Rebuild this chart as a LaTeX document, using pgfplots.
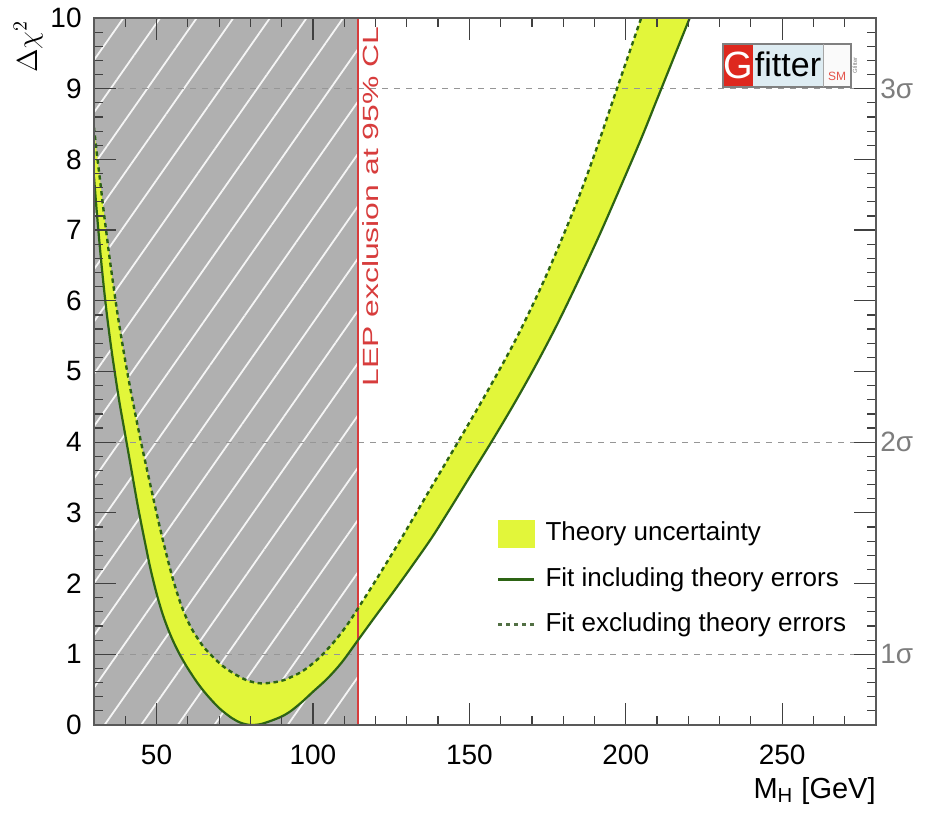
\documentclass[border=0pt]{standalone}
\usepackage{pgfplots}
\pgfplotsset{compat=1.18}
\usepgfplotslibrary{fillbetween}
\usetikzlibrary{patterns.meta}
\usepackage{fontspec}
\setmainfont{Liberation Sans}
\definecolor{yel}{RGB}{226,246,58}
\definecolor{dgreen}{RGB}{45,100,20}
\definecolor{lepgray}{RGB}{176,176,176}
\definecolor{lepred}{RGB}{215,60,60}
\definecolor{gridgray}{RGB}{150,150,150}
\definecolor{gfred}{RGB}{222,40,30}
\definecolor{gfblue}{RGB}{222,236,242}
\definecolor{siggray}{RGB}{125,125,125}
\begin{document}
\begin{tikzpicture}
\begin{axis}[name=ax, scale only axis, width=391pt, height=353.5pt,
  xmin=30, xmax=280, ymin=0, ymax=10,
  set layers, axis on top, clip mode=individual,
  xtick={50,100,150,200,250}, minor xtick={30,40,...,280},
  ytick={0,1,...,10}, minor ytick={0,0.2,...,10},
  major tick length=11pt, minor tick length=4.5pt,
  tick style={black!75, line width=0.6pt},
  axis line style={black!65, line width=0.8pt},
  /pgf/number format/assume math mode=true,
  ticklabel style={font=\fontsize{14}{14}\selectfont},
  yticklabel style={anchor=east, inner sep=0pt, xshift=-6pt},
  xticklabel style={anchor=north, inner sep=0pt, yshift=-10pt},
  legend style={at={(axis description cs:0.5153,0.2900)}, anchor=north west,
    draw=none, fill=none, inner sep=0pt, outer sep=0pt, row sep=9.5pt, column sep=5pt,
    font=\fontsize{13}{13}\selectfont,
    nodes={inner sep=0pt, text height=10pt, text depth=3pt, anchor=west}},
  legend cell align=left,
]
% LEP excluded region
\addplot[forget plot, draw=none, fill=lepgray, on layer=axis background,
  postaction={pattern={Lines[angle=55,distance=15pt,line width=0.9pt]}, pattern color=white!92!gray}]
  coordinates {(30,10) (114.4,10)} \closedcycle;

% curves (paths for the band)
\addplot[forget plot, name path=inc, draw=none, smooth] coordinates {
(30,7.75) (31,7.2) (32,6.7) (33,6.25) (34,5.85) (35,5.5) (36,5.18) (38,4.6) (40,4.1)
(42,3.6) (44,3.1) (46,2.65) (48,2.22) (50,1.86) (52,1.56) (54,1.32) (56,1.12) (58,0.95)
(60,0.8) (63,0.6) (66,0.43) (70,0.24) (74,0.1) (77,0.03) (80,0) (83,0.01) (86,0.05)
(90,0.12) (93,0.2) (96.6,0.33) (100,0.47) (104,0.63) (107.2,0.78) (110,0.93) (114.4,1.2)
(120,1.54) (126,1.9) (132,2.27) (138,2.65) (144,3.07) (150,3.5) (157,4.0) (164,4.52)
(171,5.07) (178,5.66) (185,6.3) (192,6.97) (199,7.68) (205,8.3) (210,8.85) (215,9.4)
(220,9.95) (226,10.6)};
\addplot[forget plot, name path=exc, draw=none, smooth] coordinates {
(30,8.45) (31,8.05) (32,7.68) (33,7.3) (34,6.95) (35,6.6) (36,6.28) (37,5.97) (38,5.68)
(40,5.15) (42,4.67) (44.8,4.05) (47,3.6) (50,3.0) (52,2.62) (55,2.1) (58,1.68) (61,1.38)
(64.6,1.13) (67.2,1.0) (71,0.84) (75,0.72) (79,0.63) (83,0.59) (87,0.6) (91,0.64)
(96.6,0.76) (102,0.95) (107.2,1.2) (111,1.42) (114.4,1.65) (120,2.04) (128,2.62)
(137,3.3) (146.2,3.99) (155,4.66) (164.8,5.45) (174,6.3) (183.5,7.3) (190,8.07)
(196.8,8.95) (204.7,9.97) (210,10.65)};
\addplot[forget plot, yel] fill between[of=inc and exc];

% sigma lines
\addplot[forget plot, gridgray, line width=0.6pt, dash pattern=on 3pt off 3pt] coordinates {(30,1) (280,1)};
\addplot[forget plot, gridgray, line width=0.6pt, dash pattern=on 3pt off 3pt] coordinates {(30,4) (280,4)};
\addplot[forget plot, gridgray, line width=0.6pt, dash pattern=on 3pt off 3pt] coordinates {(30,9) (280,9)};

% LEP line
\addplot[forget plot, lepred, line width=0.8pt] coordinates {(114.4,0) (114.4,10)};

% visible curves
\addplot[forget plot, dgreen, line width=1.1pt, smooth] coordinates {
(30,7.75) (31,7.2) (32,6.7) (33,6.25) (34,5.85) (35,5.5) (36,5.18) (38,4.6) (40,4.1)
(42,3.6) (44,3.1) (46,2.65) (48,2.22) (50,1.86) (52,1.56) (54,1.32) (56,1.12) (58,0.95)
(60,0.8) (63,0.6) (66,0.43) (70,0.24) (74,0.1) (77,0.03) (80,0) (83,0.01) (86,0.05)
(90,0.12) (93,0.2) (96.6,0.33) (100,0.47) (104,0.63) (107.2,0.78) (110,0.93) (114.4,1.2)
(120,1.54) (126,1.9) (132,2.27) (138,2.65) (144,3.07) (150,3.5) (157,4.0) (164,4.52)
(171,5.07) (178,5.66) (185,6.3) (192,6.97) (199,7.68) (205,8.3) (210,8.85) (215,9.4)
(220,9.95) (226,10.6)};
\addplot[forget plot, dgreen, line width=1.2pt, smooth, dash pattern=on 2.2pt off 1.8pt] coordinates {
(30,8.45) (31,8.05) (32,7.68) (33,7.3) (34,6.95) (35,6.6) (36,6.28) (37,5.97) (38,5.68)
(40,5.15) (42,4.67) (44.8,4.05) (47,3.6) (50,3.0) (52,2.62) (55,2.1) (58,1.68) (61,1.38)
(64.6,1.13) (67.2,1.0) (71,0.84) (75,0.72) (79,0.63) (83,0.59) (87,0.6) (91,0.64)
(96.6,0.76) (102,0.95) (107.2,1.2) (111,1.42) (114.4,1.65) (120,2.04) (128,2.62)
(137,3.3) (146.2,3.99) (155,4.66) (164.8,5.45) (174,6.3) (183.5,7.3) (190,8.07)
(196.8,8.95) (204.7,9.97) (210,10.65)};

% legend
\addlegendimage{legend image code/.code={\fill[yel] (0pt,-6.75pt) rectangle (18pt,6.75pt);}}
\addlegendentry{Theory uncertainty}
\addlegendimage{legend image code/.code={\draw[dgreen, line width=1.3pt] (0pt,0pt) -- (18pt,0pt);}}
\addlegendentry{Fit including theory errors}
\addlegendimage{legend image code/.code={\draw[dgreen!55!gray, line width=1.3pt, dash pattern=on 2pt off 2pt] (0pt,0pt) -- (18pt,0pt);}}
\addlegendentry{Fit excluding theory errors}

% annotations
\node[rotate=90, anchor=north west, inner sep=0pt, text=lepred, font=\fontsize{11}{11}\selectfont]
  at (axis cs:115.8,4.78) {\scalebox{1.45}[1]{LEP exclusion at 95\% CL}};
\node[anchor=west, inner sep=0pt, xshift=2pt, text=siggray, font=\fontsize{14}{14}\selectfont] at (axis cs:280,9) {3σ};
\node[anchor=west, inner sep=0pt, xshift=2pt, text=siggray, font=\fontsize{14}{14}\selectfont] at (axis cs:280,4) {2σ};
\node[anchor=west, inner sep=0pt, xshift=2pt, text=siggray, font=\fontsize{14}{14}\selectfont] at (axis cs:280,1) {1σ};
\end{axis}

\node[rotate=90, anchor=south east, inner sep=0pt, font=\fontsize{14}{14}\selectfont]
  at ([xshift=-25.5pt,yshift=-1pt]ax.north west) {$\Delta\chi^{2}$};
\node[anchor=north east, inner sep=0pt, font=\fontsize{14.5}{14.5}\selectfont]
  at ([yshift=-26pt]ax.south east) {M\textsubscript{H} [GeV]};

% Gfitter logo
\begin{scope}[shift={(ax.north east)}]
\fill[gfred] (-76.5pt,-34.5pt) rectangle (-61.5pt,-13pt);
\fill[gfblue] (-61.5pt,-34.5pt) rectangle (-26.5pt,-13pt);
\fill[white!96!gray] (-26.5pt,-34.5pt) rectangle (-12.5pt,-13pt);
\draw[gray, line width=0.6pt] (-76.5pt,-34.5pt) rectangle (-12.5pt,-13pt);
\draw[gray!70, line width=0.4pt] (-26.5pt,-34.5pt) -- (-26.5pt,-13pt);
\node[text=white, inner sep=0pt, font=\fontsize{19}{19}\selectfont] at (-69pt,-23.75pt) {G};
\node[inner sep=0pt, font=\fontsize{17}{17}\selectfont] at (-44pt,-23pt) {fitter};
\node[text=gfred!80, inner sep=0pt, anchor=south, font=\fontsize{6}{6}\selectfont] at (-19.5pt,-31.5pt) {SM};
\node[rotate=90, text=gray, inner sep=0pt, font=\fontsize{3}{3}\selectfont] at (-10.5pt,-23.75pt) {Gfitter};
\end{scope}

\pgfresetboundingbox
\useasboundingbox ([shift={(-47pt,-48.5pt)}]ax.south west) rectangle ([shift={(25pt,9pt)}]ax.north east);
\end{tikzpicture}
\end{document}
